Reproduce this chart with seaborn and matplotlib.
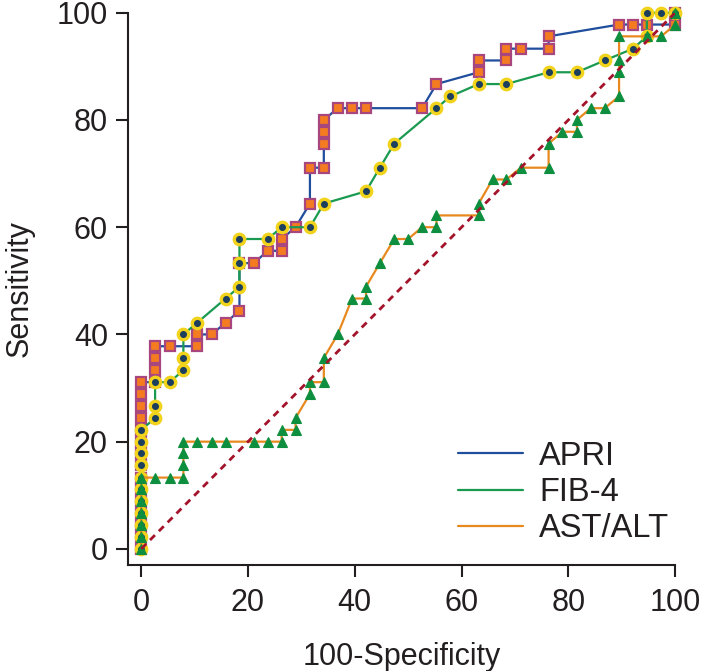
import pandas as pd
import seaborn as sns
from matplotlib import pyplot as plt
from matplotlib.lines import Line2D

# ROC points (100-specificity, sensitivity)
apri_x = [0, 0, 0, 0, 0, 0, 0, 0, 0, 0, 0, 0, 0, 0, 0,
          2.6, 2.6, 2.6, 2.6, 5.3, 10.5, 10.5, 13.2, 15.8, 18.4, 18.4, 21.1, 23.7, 26.3, 26.3,
          28.9, 31.6, 31.6, 34.2, 34.2, 34.2, 34.2, 36.8, 39.5, 42.1, 52.6, 55.3, 63.2, 63.2,
          68.4, 68.4, 71.1, 76.3, 76.3, 89.5, 92.1, 94.7, 100, 100]
apri_y = [0, 2.2, 4.4, 6.7, 8.9, 11.1, 13.3, 15.6, 17.8, 20.0, 22.2, 24.4, 26.7, 28.9, 31.1,
          31.1, 33.3, 35.6, 37.8, 37.8, 37.8, 40.0, 40.0, 42.2, 44.4, 53.3, 53.3, 55.6, 55.6, 57.8,
          60.0, 64.4, 71.1, 71.1, 75.6, 77.8, 80.0, 82.2, 82.2, 82.2, 82.2, 86.7, 88.9, 91.1,
          91.1, 93.3, 93.3, 93.3, 95.6, 97.8, 97.8, 97.8, 97.8, 100]

fib_x = [0, 0, 0, 0, 0, 0, 0, 0, 0, 0, 0,
         2.6, 2.6, 2.6, 5.3, 7.9, 7.9, 7.9, 10.5, 15.8, 18.4, 18.4, 18.4, 23.7, 26.3, 31.6,
         34.2, 42.1, 44.7, 47.4, 55.3, 57.9, 63.2, 68.4, 76.3, 81.6, 86.8, 92.1, 94.7, 94.7,
         97.4, 100]
fib_y = [0, 2.2, 4.4, 6.7, 8.9, 11.1, 13.3, 15.6, 17.8, 20.0, 22.2,
         24.4, 26.7, 31.1, 31.1, 33.3, 35.6, 40.0, 42.2, 46.7, 48.9, 53.3, 57.8, 57.8, 60.0, 60.0,
         64.4, 66.7, 71.1, 75.6, 82.2, 84.4, 86.7, 86.7, 88.9, 88.9, 91.1, 93.3, 95.6, 100,
         100, 100]

ast_x = [0, 0, 0, 0, 0, 0, 0, 2.6, 5.3, 7.9, 7.9, 7.9, 7.9, 10.5, 13.2, 15.8, 21.1, 23.7,
         26.3, 26.3, 28.9, 28.9, 31.6, 31.6, 34.2, 34.2, 36.8, 39.5, 42.1, 42.1, 44.7, 47.4,
         50.0, 52.6, 55.3, 55.3, 63.2, 63.2, 65.8, 68.4, 71.1, 76.3, 76.3, 78.9, 81.6, 81.6,
         84.2, 86.8, 89.5, 89.5, 89.5, 89.5, 94.7, 97.4, 100, 100]
ast_y = [0, 2.2, 4.4, 6.7, 8.9, 11.1, 13.3, 13.3, 13.3, 13.3, 15.6, 17.8, 20.0, 20.0, 20.0,
         20.0, 20.0, 20.0, 20.0, 22.2, 22.2, 24.4, 28.9, 31.1, 31.1, 35.6, 40.0, 46.7, 46.7,
         48.9, 53.3, 57.8, 57.8, 60.0, 60.0, 62.2, 62.2, 64.4, 68.9, 68.9, 71.1, 71.1, 75.6,
         77.8, 77.8, 80.0, 82.2, 82.2, 84.4, 88.9, 91.1, 95.6, 95.6, 95.6, 97.8, 100]

ref_x = [0, 100]
ref_y = [0, 100]

labels = ["APRI", "FIB-4", "AST/ALT"]

sns.set_style("ticks")
plt.rcParams['font.family'] = ['Liberation Sans', 'DejaVu Sans']
plt.rcParams['font.size'] = 22
ink = '#231f20'
plt.rcParams['text.color'] = ink
plt.rcParams['axes.labelcolor'] = ink
plt.rcParams['xtick.color'] = ink
plt.rcParams['ytick.color'] = ink

fig, ax = plt.subplots(figsize=(7.04, 6.71), dpi=100)
fig.subplots_adjust(left=0.182, right=0.959, bottom=0.158, top=0.981)

apri_col, fib_col, ast_col = '#1f4e9c', '#1a9a50', '#e8891f'

sns.lineplot(x=apri_x, y=apri_y, sort=False, estimator=None, ax=ax, color=apri_col,
             linewidth=1.6, marker='s', markersize=6.5, markerfacecolor='#f47b20',
             markeredgecolor='#a8467f', markeredgewidth=1.6, zorder=3, clip_on=False)
sns.lineplot(x=fib_x, y=fib_y, sort=False, estimator=None, ax=ax, color=fib_col,
             linewidth=1.6, marker='o', markersize=7.5, markerfacecolor='#1d3f5e',
             markeredgecolor='#f2d31b', markeredgewidth=2.4, zorder=4, clip_on=False)
sns.lineplot(x=ast_x, y=ast_y, sort=False, estimator=None, ax=ax, color=ast_col,
             linewidth=1.6, marker='^', markersize=7, markerfacecolor='#0e8f3f',
             markeredgecolor='#0e8f3f', markeredgewidth=0.8, zorder=5, clip_on=False)

# chance line
ax.plot(ref_x, ref_y, color='#a3132a', linewidth=2, linestyle=(0, (2.5, 2)), zorder=6)

ax.set_xlim(-2.45, 100)
ax.set_ylim(-3, 100)
ax.set_xticks([0, 20, 40, 60, 80, 100])
ax.set_yticks([0, 20, 40, 60, 80, 100])
ax.tick_params(axis='y', length=8.5, width=1.5, pad=6, labelsize=22, color=ink)
ax.tick_params(axis='x', length=8.5, width=1.5, pad=8, labelsize=22, color=ink)
for side in ['left', 'bottom']:
    ax.spines[side].set_linewidth(1.5)
    ax.spines[side].set_color(ink)
sns.despine(ax=ax)

ax.set_xlabel("100-Specificity", fontsize=22, labelpad=17)
ax.set_ylabel("Sensitivity", fontsize=22, labelpad=16)

legend_elements = [Line2D([0], [0], color=apri_col, lw=1.6, label=labels[0]),
                   Line2D([0], [0], color=fib_col, lw=1.6, label=labels[1]),
                   Line2D([0], [0], color=ast_col, lw=1.6, label=labels[2])]
ax.legend(handles=legend_elements, loc='lower right', bbox_to_anchor=(1.031, -0.004),
          frameon=False, fontsize=23.5, handlelength=2.0, handletextpad=0.5,
          labelspacing=0.16, borderpad=0.2)

fig.savefig("out.png", dpi=100)
